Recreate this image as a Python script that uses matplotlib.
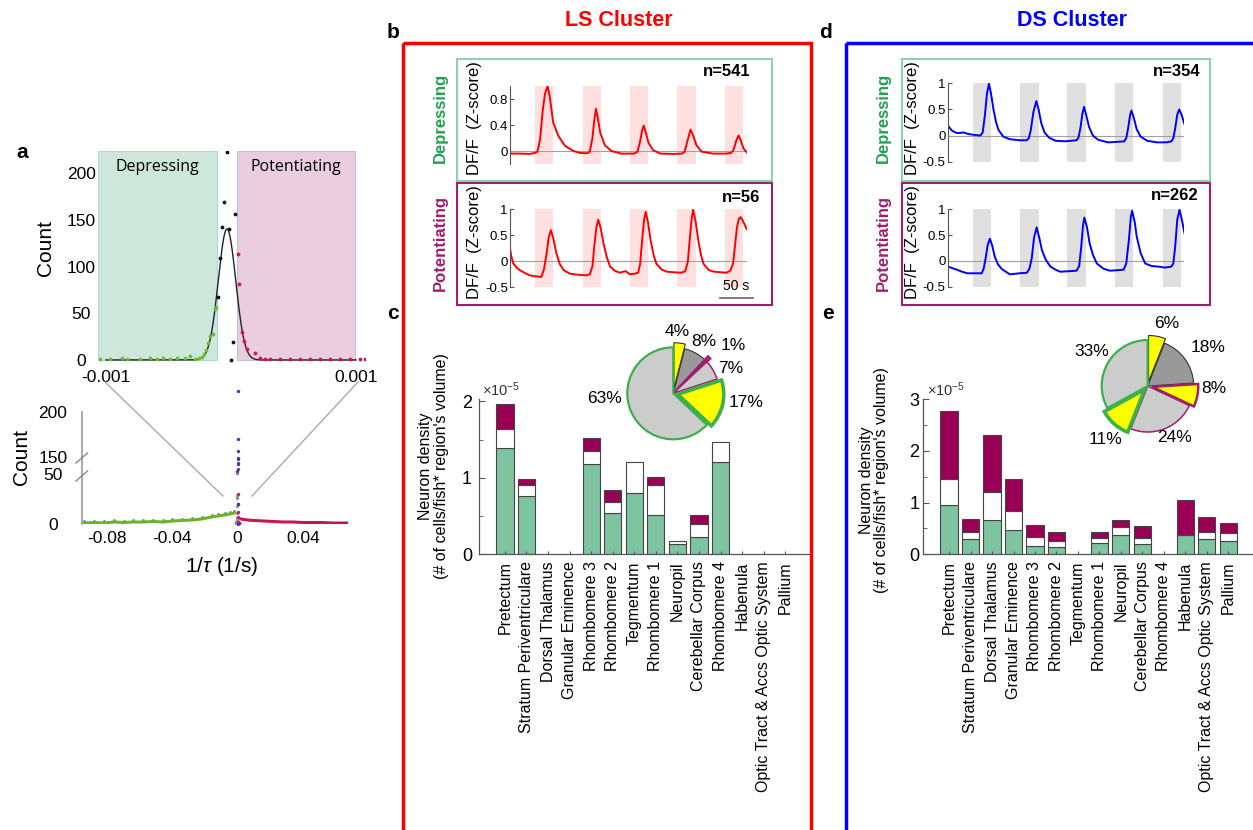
import numpy as np
import matplotlib.pyplot as plt
from matplotlib.patches import Rectangle

plt.rcParams['font.family'] = ['Liberation Sans', 'DejaVu Sans']
plt.rcParams['mathtext.fontset'] = 'custom'
plt.rcParams['mathtext.rm'] = 'Liberation Sans'
plt.rcParams['mathtext.it'] = 'Liberation Sans:italic'

W, H = 1253, 830

# ---------------- panel a: histogram of 1/tau ----------------
# narrow window, x in units of 1e-3 1/s
dep_x = [-1.048, -0.968, -0.874, -0.834, -0.728, -0.648, -0.594, -0.542, -0.488,
         -0.434, -0.368, -0.328, -0.288, -0.254, -0.234, -0.216, -0.200, -0.182,
         -0.168, -0.142, -0.128, -0.120]
dep_n = [0.7, 0.7, 2.1, 1.4, 1.4, 2.1, 1.4, 2.5, 1.1, 1.8, 2.1, 4.3, 1.4, 2.1,
         2.9, 6.4, 10.7, 17.9, 26.0, 27.9, 54.6, 57.1]
mid_x = [-0.032, -0.054, 0.034, -0.070, -0.018, -0.088, -0.102, 0.014, 0.0]
mid_n = [222.9, 169.6, 156.4, 142.9, 140.4, 109.0, 67.8, 19.6, 0.0]
pot_x = [0.054, 0.066, 0.086, 0.106, 0.130, 0.192, 0.232, 0.272, 0.312, 0.392,
         0.472, 0.552, 0.632, 0.712, 0.792, 0.872, 0.952, 1.032, 1.072]
pot_n = [113.6, 81.0, 30.4, 20.4, 12.0, 7.1, 1.8, 1.2, 0.8, 1.1, 0.7, 1.3, 0.9,
         1.2, 0.8, 1.0, 1.1, 0.9, 1.2]
fit_amp, fit_mu, fit_sigma = 140.4, -0.032, 0.070   # gaussian fit (x in 1e-3)
dep_zone = (-1.064, -0.112)
pot_zone = (0.048, 0.992)

# full range of 1/tau (1/s)
wide_dep_x = [-0.094, -0.088, -0.082, -0.076, -0.070, -0.064, -0.058, -0.052,
              -0.046, -0.040, -0.034, -0.028, -0.022, -0.016, -0.012, -0.008,
              -0.005, -0.002]
wide_dep_n = [1, 1.5, 1, 2, 1.5, 2, 2, 2.5, 2, 3, 3.5, 4, 5, 7, 8, 9, 10, 11]
wide_pot_x = [0.002, 0.006, 0.010, 0.016, 0.022, 0.028, 0.034, 0.040, 0.046,
              0.052, 0.058, 0.064, 0.068]
wide_pot_n = [5, 4, 3.5, 3, 2.5, 2, 2, 1.5, 1.5, 1.5, 1, 1, 1]

# ---------------- mean traces (t in s, DF/F z-score) ----------------
stim_on = [38, 111, 183, 256, 329]
stim_len = 28
t_end = 362

ls_dep_t = [0, 15, 30, 38, 42, 46, 50, 53.5, 57.5, 61, 66, 74, 84, 97, 107, 118,
            122, 126, 129, 131.5, 134, 138, 145, 155, 170, 190, 195, 199, 202,
            204.5, 208, 212, 219, 230, 250, 263, 267, 271, 276, 280, 285, 293,
            310, 330, 338, 342, 346, 349.5, 353, 357, 362]
ls_dep_v = [-0.04, -0.04, -0.045, -0.03, -0.01, 0.18, 0.62, 0.88, 1.0, 0.82, 0.44,
            0.23, 0.08, 0.0, -0.03, -0.035, -0.01, 0.2, 0.48, 0.65, 0.52, 0.28,
            0.09, 0.0, -0.04, -0.04, -0.01, 0.15, 0.32, 0.39, 0.27, 0.12, 0.01,
            -0.04, -0.045, -0.04, -0.01, 0.14, 0.33, 0.24, 0.09, -0.01, -0.04,
            -0.04, -0.03, 0.02, 0.16, 0.24, 0.16, 0.04, -0.02]

ls_pot_t = [0, 2, 5, 10, 15, 22, 30, 40, 48, 52, 56, 59, 62.5, 66, 71, 76, 82, 92,
            105, 117, 122, 126, 129, 132, 135, 139, 143, 148, 153, 160, 168, 173,
            177, 183, 190, 196, 199, 202, 205, 207.5, 211, 215, 220, 224, 232,
            240, 250, 262, 268, 272, 275, 278, 280, 284, 288, 292, 296, 304, 312,
            322, 331, 337, 341, 344, 347, 350, 352.5, 356, 362]
ls_pot_v = [0.25, 0.10, -0.04, -0.12, -0.17, -0.22, -0.27, -0.29, -0.30, -0.15,
            0.15, 0.45, 0.60, 0.45, 0.15, -0.05, -0.17, -0.24, -0.26, -0.27,
            -0.25, -0.10, 0.30, 0.65, 0.80, 0.62, 0.34, 0.08, -0.10, -0.18, -0.22,
            -0.20, -0.19, -0.25, -0.24, -0.22, -0.05, 0.40, 0.80, 0.95, 0.75,
            0.40, 0.10, -0.05, -0.16, -0.20, -0.21, -0.22, -0.19, 0.0, 0.45,
            0.85, 0.99, 0.75, 0.40, 0.12, -0.05, -0.17, -0.20, -0.21, -0.22,
            -0.18, -0.05, 0.30, 0.65, 0.82, 0.85, 0.78, 0.62]

ds_dep_t = [0, 3, 6, 10, 14, 19, 24, 29, 34, 42, 50, 53.5, 57, 60, 63, 66, 70, 74,
            78, 85, 95, 110, 121, 124, 127, 131, 135.5, 139, 143, 148, 155, 165,
            180, 197, 200, 203, 206, 208.5, 212, 216, 222, 230, 245, 260, 270,
            273, 276, 279, 281, 285, 289, 295, 305, 320, 335, 342, 345, 348, 351,
            354, 357, 360, 362]
ds_dep_v = [0.19, 0.15, 0.10, 0.07, 0.05, 0.05, 0.06, 0.04, 0.025, 0.01, 0.0,
            0.06, 0.40, 0.80, 0.99, 0.82, 0.50, 0.25, 0.10, -0.02, -0.07, -0.09,
            -0.09, -0.05, 0.10, 0.45, 0.66, 0.50, 0.24, 0.06, -0.04, -0.10, -0.11,
            -0.09, -0.04, 0.15, 0.42, 0.55, 0.38, 0.17, 0.0, -0.08, -0.13, -0.12,
            -0.11, -0.05, 0.15, 0.40, 0.48, 0.32, 0.12, -0.02, -0.10, -0.13,
            -0.13, -0.11, -0.05, 0.15, 0.40, 0.50, 0.42, 0.30, 0.22]

ds_pot_t = [0, 7, 14, 22, 30, 40, 52, 55, 58, 61, 64.5, 68, 72, 77, 83, 95, 110,
            121, 125, 128.5, 132, 136, 140, 144, 150, 157, 165, 172, 185, 197,
            201, 204, 207, 209, 213, 217, 222, 228, 238, 248, 260, 269, 273, 277,
            280, 282, 286, 289, 295, 302, 312, 322, 332, 342, 345, 348, 351,
            354.5, 358, 362]
ds_pot_v = [-0.11, -0.14, -0.17, -0.21, -0.24, -0.24, -0.24, -0.15, 0.05, 0.30,
            0.43, 0.30, 0.08, -0.07, -0.16, -0.26, -0.24, -0.23, -0.15, 0.05,
            0.45, 0.65, 0.45, 0.21, 0.02, -0.11, -0.17, -0.21, -0.20, -0.19,
            -0.10, 0.25, 0.70, 0.84, 0.65, 0.34, 0.12, -0.05, -0.15, -0.19,
            -0.18, -0.17, -0.05, 0.40, 0.85, 0.97, 0.75, 0.47, 0.15, -0.05,
            -0.10, -0.11, -0.13, -0.11, -0.05, 0.30, 0.80, 0.99, 0.80, 0.54]

# ---------------- neuron density per region (x 1e-5) ----------------
regions = ['Pretectum', 'Stratum Periventriculare', 'Dorsal Thalamus',
           'Granular Eminence', 'Rhombomere 3', 'Rhombomere 2', 'Tegmentum',
           'Rhombomere 1', 'Neuropil', 'Cerebellar Corpus', 'Rhombomere 4',
           'Habenula', 'Optic Tract & Accs Optic System', 'Pallium']
ls_dep = [1.39, 0.76, 0, 0, 1.18, 0.54, 0.80, 0.52, 0.13, 0.23, 1.21, 0, 0, 0]
ls_mid = [0.25, 0.14, 0, 0, 0.17, 0.15, 0.40, 0.38, 0.04, 0.17, 0.26, 0, 0, 0]
ls_pot = [0.32, 0.09, 0, 0, 0.17, 0.15, 0, 0.11, 0, 0.12, 0, 0, 0, 0]
ds_dep = [0.95, 0.30, 0.67, 0.46, 0.16, 0.14, 0, 0.22, 0.37, 0.20, 0, 0.37, 0.29, 0.26]
ds_mid = [0.51, 0.14, 0.54, 0.37, 0.17, 0.11, 0, 0.09, 0.16, 0.11, 0, 0, 0.15, 0.15]
ds_pot = [1.30, 0.24, 1.10, 0.63, 0.245, 0.175, 0, 0.13, 0.13, 0.24, 0, 0.68, 0.285, 0.20]

# pie fractions (%)
ls_pie = [4, 8, 1, 7, 17, 63]
ds_pie = [6, 18, 8, 24, 11, 33]

GREEN = '#23a050'
PURPLE = '#a01e6e'
BAR_GREEN = '#7fc4a0'
BAR_PURPLE = '#990055'

fig = plt.figure(figsize=(W / 100, H / 100), dpi=100)


def px_axes(x0, y0, x1, y1):
    return fig.add_axes([x0 / W, 1 - y1 / H, (x1 - x0) / W, (y1 - y0) / H])


def clear_spines(ax, keep=()):
    for side in ['top', 'right', 'left', 'bottom']:
        ax.spines[side].set_visible(side in keep)


# ---- a, top: zoom around zero ----
ax = px_axes(98, 151, 365, 362)
ax.add_patch(Rectangle((dep_zone[0] * 1e-3, 0), (dep_zone[1] - dep_zone[0]) * 1e-3, 224,
                       facecolor='#cde8da', edgecolor='#a8d8dc', lw=0.8))
ax.add_patch(Rectangle((pot_zone[0] * 1e-3, 0), (pot_zone[1] - pot_zone[0]) * 1e-3, 224,
                       facecolor='#ebcde0', edgecolor='#b8c4dc', lw=0.8))
xf = np.linspace(-1.0, 1.0, 600)
ax.plot(xf * 1e-3, fit_amp * np.exp(-(xf - fit_mu) ** 2 / (2 * fit_sigma ** 2)),
        color='#222222', lw=1)
ax.scatter(np.array(dep_x) * 1e-3, dep_n, s=3, color='#6cbf2a', zorder=3)
ax.scatter(np.array(pot_x) * 1e-3, pot_n, s=3, color='#d01848', zorder=3)
ax.scatter(np.array(mid_x) * 1e-3, mid_n, s=3, color='#111111', zorder=3)
ax.set_xlim(-1.064e-3, 1.072e-3)
ax.set_ylim(-2.2, 224)
ax.set_xticks([-0.001, 0.001])
ax.set_xticklabels(['-0.001', '0.001'])
ax.set_yticks([0, 50, 100, 150, 200])
ax.tick_params(length=0, labelsize=12.5)
ax.tick_params(axis='y', pad=12)
ax.tick_params(axis='x', pad=6)
for lab in ax.get_yticklabels():
    lab.set_horizontalalignment('center')
clear_spines(ax)
ax.patch.set_alpha(0)
ax.text(np.mean(dep_zone) * 1e-3, 207, 'Depressing', family='Open Sans',
        fontsize=11.5, ha='center', va='center')
ax.text(np.mean(pot_zone) * 1e-3, 207, 'Potentiating', family='Open Sans',
        fontsize=11.5, ha='center', va='center')

# ---- a, bottom: full range with broken count axis ----
brk_in = [0, 50, 150, 250]
brk_out = [0, 50, 67, 157]


def brk(c):
    return np.interp(c, brk_in, brk_out)


ax = px_axes(82, 412, 348, 524)
ax.plot(wide_dep_x, brk(wide_dep_n), color='#6cb22a', lw=2.2)
ax.scatter(wide_dep_x, brk(np.array(wide_dep_n) + 1.5), s=1.5, color='#8a9a8a')
ax.plot(wide_pot_x, brk(wide_pot_n), color='#c8184a', lw=2.2)
ax.scatter(np.array(dep_x) * 1e-3, brk(dep_n), s=2, color='#8a9a8a', zorder=3)
ax.scatter(np.array(pot_x) * 1e-3, brk(pot_n), s=2, color='#a8287a', zorder=3)
ax.scatter(np.array(mid_x) * 1e-3, brk(mid_n), s=2, color='#4a3a9a', zorder=3,
           clip_on=False)
ax.set_xlim(-0.0955, 0.0677)
ax.set_ylim(0, 112)
ax.set_xticks([-0.08, -0.04, 0, 0.04])
ax.set_xticklabels(['-0.08', '-0.04', '0', '0.04'])
ax.set_yticks(brk([0, 50, 150, 200]))
ax.set_yticklabels(['0', '50', '150', '200'])
ax.tick_params(length=0, labelsize=12.5)
ax.tick_params(axis='y', pad=21)
ax.tick_params(axis='x', pad=5)
for lab in ax.get_yticklabels():
    lab.set_horizontalalignment('center')
clear_spines(ax, keep=('left',))
ax.spines['left'].set_color('#9a9a9a')
ax.spines['left'].set_linewidth(1.2)
ax.patch.set_alpha(0)


# ---- b, d: mean responses ----
def trace_panel(x0, y0, y1, t, v, color, band, ylim, ticks, labels):
    x1 = x0 + t_end * 0.654
    ax = px_axes(x0, y0, x1, y1)
    for s in stim_on:
        ax.axvspan(s, s + stim_len, color=band, lw=0)
    ax.axhline(0, color='#a0a0a0', lw=0.8)
    ax.plot(t, v, color=color, lw=1.4)
    ax.set_xlim(0, t_end)
    ax.set_ylim(*ylim)
    ax.set_xticks([])
    ax.set_yticks(ticks)
    ax.set_yticklabels(labels)
    ax.tick_params(axis='y', direction='in', length=3, labelsize=9.5, pad=1.5,
                   color='#555555')
    clear_spines(ax, keep=('left',))
    ax.spines['left'].set_color('#555555')
    ax.spines['left'].set_linewidth(0.8)
    ax.patch.set_alpha(0)
    return ax


trace_panel(510, 86, 164, ls_dep_t, ls_dep_v, '#ff0000', '#ffe0e0', (-0.2, 1.0),
            [0, 0.4, 0.8], ['0', '0.4', '0.8'])
ax = trace_panel(510, 209.3, 287.3, ls_pot_t, ls_pot_v, '#ff0000', '#ffe0e0',
                 (-0.5, 1.0), [-0.5, 0, 0.5, 1], ['-0.5', '0', '0.5', '1'])
# 50 s scale bar
ax.plot([321, 371], [-0.7, -0.7], color='#666666', lw=1.2, clip_on=False)
ax.text(346, -0.61, '50 s', fontsize=10, ha='center', va='bottom')
trace_panel(947.7, 83.3, 161.7, ds_dep_t, ds_dep_v, '#0000ff', '#e0e0e0',
            (-0.5, 1.0), [-0.5, 0, 0.5, 1], ['-0.5', '0', '0.5', '1'])
trace_panel(947.7, 209.3, 286.7, ds_pot_t, ds_pot_v, '#0000ff', '#e0e0e0',
            (-0.5, 1.0), [-0.5, 0, 0.5, 1], ['-0.5', '0', '0.5', '1'])


# ---- c, e: density bars ----
def bar_panel(x0, x1, dep, mid, pot, ytop, major, minor, pad):
    ax = px_axes(x0, 399, x1, 554.3)
    pos = np.arange(1, len(regions) + 1)
    dep, mid, pot = np.array(dep), np.array(mid), np.array(pot)
    kw = dict(width=0.8, edgecolor='#444444', linewidth=0.8)
    for heights, bottoms, col in [(dep, 0 * dep, BAR_GREEN),
                                  (mid, dep, 'white'),
                                  (pot, dep + mid, BAR_PURPLE)]:
        m = heights > 0
        ax.bar(pos[m], heights[m], bottom=bottoms[m], color=col, **kw)
    ax.set_xlim(-0.2, 15.15)
    ax.set_ylim(0, ytop)
    ax.set_xticks(pos)
    ax.set_xticklabels(regions, rotation=90, fontsize=11.5)
    ax.set_yticks(major)
    ax.set_yticks(minor, minor=True)
    ax.tick_params(axis='both', which='both', direction='in', color='#555555')
    ax.tick_params(axis='x', length=2.5, pad=5)
    ax.tick_params(axis='y', which='major', length=4, labelsize=13, pad=pad)
    ax.tick_params(axis='y', which='minor', length=3)
    clear_spines(ax, keep=('left', 'bottom'))
    for side in ('left', 'bottom'):
        ax.spines[side].set_color('#555555')
        ax.spines[side].set_linewidth(0.9)
    ax.patch.set_alpha(0)
    ax.text(0.01, 1.0, r'$\times10^{-5}$', transform=ax.transAxes, fontsize=10.5,
            ha='left', va='bottom', color='#333333')
    return ax


bar_panel(479, 810, ls_dep, ls_mid, ls_pot, 2.03, [0, 1, 2], [0.5, 1.5], 5)
bar_panel(923.3, 1253, ds_dep, ds_mid, ds_pot, 3.0, [0, 1, 2, 3],
          [0.5, 1.5, 2.5], 3)


# ---- pies ----
def pie_panel(cx, cy, r, sizes):
    s = 1.6 * r
    ax = px_axes(cx - s, cy - s, cx + s, cy + s)
    fills = ['#ffff00', '#999999', '#ffff00', '#cccccc', '#ffff00', '#cccccc']
    edges = ['#333333', '#333333', PURPLE, PURPLE, '#3cb04a', '#3cb04a']
    widths = [0.8, 0.8, 1.8, 1.1, 2.6, 1.6]
    wedges, _ = ax.pie(sizes, explode=[0.1, 0, 0.1, 0, 0.1, 0], colors=fills,
                       startangle=90, counterclock=False, radius=1.0)
    for w, ec, lw in zip(wedges, edges, widths):
        w.set_edgecolor(ec)
        w.set_linewidth(lw)
    ax.set_xlim(-1.6, 1.6)
    ax.set_ylim(-1.6, 1.6)
    ax.set_aspect('equal')
    ax.axis('off')


pie_panel(673.3, 393.3, 46, ls_pie)
pie_panel(1147.7, 386, 46, ds_pie)

# ---- overlay: frames, titles, labels ----
deco = fig.add_axes([0, 0, 1, 1])
deco.set_xlim(0, W)
deco.set_ylim(H, 0)
deco.axis('off')
deco.patch.set_alpha(0)

deco.add_patch(Rectangle((403, 43), 408, 820, fill=False, edgecolor='#ff0000', lw=2.5))
deco.add_patch(Rectangle((846, 43), 430, 820, fill=False, edgecolor='#0000ff', lw=2.5))
for x0, x1 in [(456.7, 771.7), (901.7, 1210)]:
    deco.add_patch(Rectangle((x0, 59.3), x1 - x0, 121.4, fill=False,
                             edgecolor='#8fd1aa', lw=1.5))
    deco.add_patch(Rectangle((x0, 183.3), x1 - x0, 121.7, fill=False,
                             edgecolor=PURPLE, lw=1.5))

deco.text(619, 20, 'LS Cluster', color='#ff0000', fontsize=15.5, weight='bold',
          ha='center', va='center')
deco.text(1072, 20, 'DS Cluster', color='#0000ff', fontsize=15.5, weight='bold',
          ha='center', va='center')
for s, x, y in [('a', 22, 152), ('b', 393, 33), ('c', 393, 313), ('d', 826, 33),
                ('e', 828, 313)]:
    deco.text(x, y, s, fontsize=15, weight='bold', ha='center', va='center')

for x in (440, 883):
    deco.text(x, 118, 'Depressing', color=GREEN, fontsize=12, weight='bold',
              rotation=90, ha='center', va='center')
    deco.text(x, 243, 'Potentiating', color=PURPLE, fontsize=12, weight='bold',
              rotation=90, ha='center', va='center')
for x in (474, 913):
    for y in (118, 242):
        deco.text(x, y, 'DF/F  (Z-score)', fontsize=12, rotation=90,
                  ha='center', va='center')
for s, x, y in [('n=541', 750, 72), ('n=56', 760, 197), ('n=354', 1201, 72),
                ('n=262', 1199, 195)]:
    deco.text(x, y, s, fontsize=12, weight='bold', ha='right', va='center')

for x, y in [(433.5, 466), (874, 480)]:
    deco.text(x, y, "Neuron density\n(# of cells/fish* region's volume)",
              fontsize=11.5, rotation=90, ha='center', va='center',
              multialignment='center', linespacing=1.05)

for s, x, y in [('4%', 677, 331), ('8%', 704, 341), ('1%', 733, 345),
                ('7%', 731, 368), ('17%', 746, 402), ('63%', 604, 398),
                ('6%', 1167, 323), ('18%', 1208, 347), ('8%', 1214, 388),
                ('24%', 1175, 437), ('11%', 1105, 439), ('33%', 1092, 351)]:
    deco.text(x, y, s, fontsize=12.5, ha='center', va='center')

# panel a annotations
deco.text(45, 248, 'Count', fontsize=15, rotation=90, ha='center', va='center')
deco.text(22, 457, 'Count', fontsize=15, rotation=90, ha='center', va='center')
deco.text(222, 566, r'1/$\tau$ (1/s)', fontsize=15, ha='center', va='center')
deco.plot([105, 223], [382, 496], color='#aaaaaa', lw=1)
deco.plot([358, 252], [382, 496], color='#aaaaaa', lw=1)
for y in (458, 476):
    deco.plot([76, 87.5], [y + 5, y - 5], color='#888888', lw=1)

fig.savefig('out.png', dpi=100)
